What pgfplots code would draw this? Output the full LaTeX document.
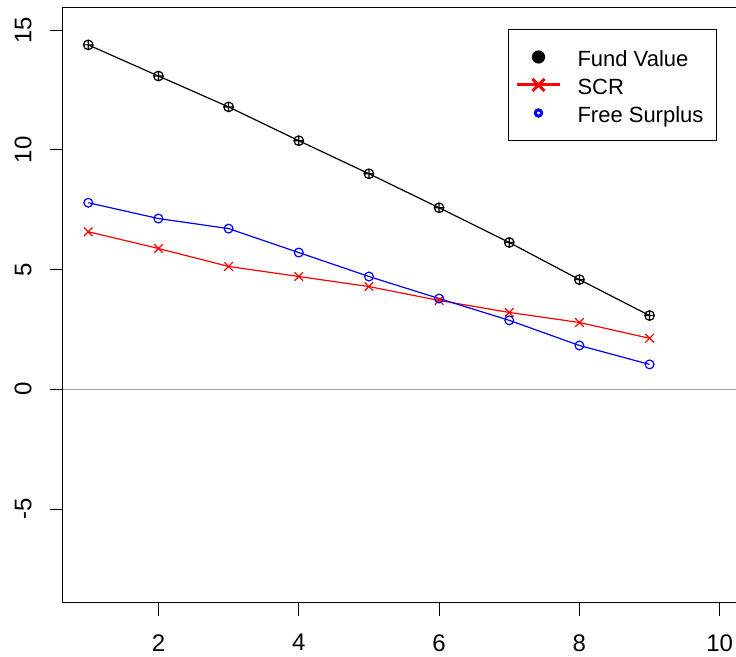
\documentclass[border=0pt]{standalone}
\usepackage{pgfplots}
\pgfplotsset{compat=1.18}
\usepackage{fontspec}
\setmainfont{Liberation Sans}

\definecolor{rblue}{RGB}{0,0,255}
\definecolor{rred}{RGB}{255,0,0}

\begin{document}
\begin{tikzpicture}
\begin{axis}[
  name=ax,
  scale only axis,
  width=341pt, height=297.5pt,
  xmin=0.64, xmax=10.36,
  ymin=-8.92, ymax=15.92,
  xtick={2,4,6,8,10},
  ytick={-5,0,5,10,15},
  xtick pos=bottom, ytick pos=left,
  tick align=outside,
  major tick length=6.5pt,
  tick style={black, line width=0.5pt},
  axis line style={line width=0.5pt},
  /pgf/number format/assume math mode=true,
  ticklabel style={font=\fontsize{12}{14}\selectfont},
  xticklabel style={anchor=north, inner sep=0pt},
  yticklabel style={rotate=90, anchor=south, inner sep=0pt},
  xticklabel shift=9pt,
  yticklabel shift=9pt,
  legend cell align=left,
  legend style={
    at={(0.6525,0.9647)}, anchor=north west,
    draw=black, line width=0.5pt,
    font=\fontsize{11}{13}\selectfont,
    inner xsep=3.5pt, inner ysep=8.75pt,
    row sep=4pt, column sep=8pt,
    nodes={inner sep=0pt, text height=10pt, text depth=0pt},
  },
]

% zero reference line
\addplot[gray!70, line width=0.5pt, forget plot] coordinates {(0.64,0) (10.36,0)};

\addplot[black, line width=0.6pt, mark=oplus, mark size=2.4pt,
  mark options={line width=0.6pt},
  legend image code/.code={\fill[black] (10.75pt,0) circle (3pt);}]
  coordinates {(1,14.38) (2,13.08) (3,11.79) (4,10.38) (5,9.00)
               (6,7.58) (7,6.13) (8,4.58) (9,3.08)};
\addlegendentry{Fund Value}

\addplot[rred, line width=0.6pt, mark=x, mark size=3pt,
  mark options={line width=0.6pt},
  legend image code/.code={
    \draw[rred, line width=1.5pt] (0pt,0) -- (21.5pt,0);
    \draw[rred, line width=1.5pt] (7.75pt,-3pt) -- (13.75pt,3pt)
                                  (7.75pt,3pt) -- (13.75pt,-3pt);}]
  coordinates {(1,6.58) (2,5.88) (3,5.13) (4,4.71) (5,4.29)
               (6,3.71) (7,3.21) (8,2.79) (9,2.13)};
\addlegendentry{SCR}

\addplot[rblue, line width=0.6pt, mark=o, mark size=2.2pt,
  mark options={line width=0.6pt},
  legend image code/.code={\draw[rblue, line width=1.5pt] (10.75pt,0) circle (1.6pt);}]
  coordinates {(1,7.79) (2,7.13) (3,6.71) (4,5.71) (5,4.71)
               (6,3.79) (7,2.88) (8,1.83) (9,1.04)};
\addlegendentry{Free Surplus\hspace*{3pt}}

\end{axis}
\pgfresetboundingbox
\path[use as bounding box]
  ([xshift=-31.5pt, yshift=-27pt]ax.south west)
  rectangle ([xshift=-4.5pt, yshift=4pt]ax.north east);
\end{tikzpicture}
\end{document}
